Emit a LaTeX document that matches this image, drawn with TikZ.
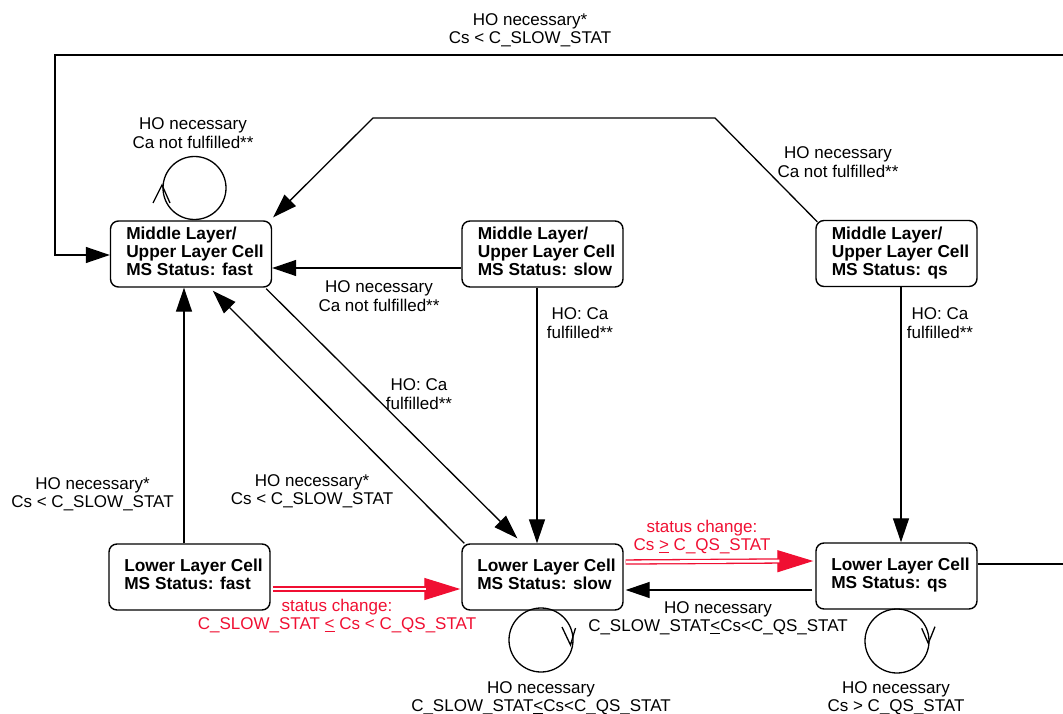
\documentclass[tikz,border=0pt]{standalone}
\usepackage{fontspec}
\setmainfont{Liberation Sans}
\usetikzlibrary{arrows.meta,calc}
\definecolor{sred}{RGB}{240,15,50}
\newcommand\boxtxt[1]{\begin{tabular}{@{\hspace{8pt}}l@{}}#1\end{tabular}}
\begin{document}
\begin{tikzpicture}[x=1pt,y=-1pt,
  box/.style={draw, line width=1.4pt, rounded corners=8pt, minimum width=161pt, minimum height=66pt, inner xsep=0pt, inner ysep=0pt, font=\bfseries\fontsize{17.3}{18}\selectfont},
  lbl/.style={align=center, font=\fontsize{17}{18.3}\selectfont, inner sep=0pt},
  conn/.style={line width=1.3pt, -{Triangle[length=24pt,width=16pt]}},
  plain/.style={line width=1.3pt},
  redtip/.style={draw=sred, line width=1.2pt, -{Triangle[length=36pt,width=22pt]}},
  redline/.style={draw=sred, line width=1.3pt, double=white, double distance=2.8pt}
]
\useasboundingbox (0,0) rectangle (1063,714);
\clip (0,0) rectangle (1063,714);

% states
\node[box] (MF) at (191,254) {\boxtxt{Middle Layer/\\Upper Layer Cell\\MS Status: fast}};
\node[box] (MS) at (542.5,254) {\boxtxt{Middle Layer/\\Upper Layer Cell\\MS Status: slow}};
\node[box] (MQ) at (896.5,253.5) {\boxtxt{Middle Layer/\\Upper Layer Cell\\MS Status: qs}};
\node[box] (LF) at (189.5,577) {\boxtxt{Lower Layer Cell\\MS Status: fast}};
\node[box] (LS) at (542.5,577) {\boxtxt{Lower Layer Cell\\MS Status: slow}};
\node[box] (LQ) at (896.5,576) {\boxtxt{Lower Layer Cell\\MS Status: qs}};

% waypoints
\coordinate (w1) at (1085,564);
\coordinate (w2) at (1085,55);
\coordinate (w3) at (55,55);
\coordinate (w4) at (55,255);
\coordinate (w5) at (715,118);
\coordinate (w6) at (373,118);

% connectors
\draw[conn] ($(LQ.east)+(0,-12)$) -- (w1) -- (w2) -- (w3) -- (w4) -- ($(MF.west)+(0,1)$);
\draw[conn] ($(MQ.north west)+(2,2)$) -- (w5) -- (w6) -- ($(MF.north east)+(1,-3)$);
\draw[conn] ($(MS.west)+(0,14)$) -- ($(MF.east)+(0,14)$);
\draw[conn] ($(MS.south)+(-5.5,0)$) -- ($(LS.north)+(-5.5,0)$);
\draw[conn] ($(MQ.south)+(4.5,0)$) -- ($(LQ.north)+(4.5,0)$);
\draw[conn] ($(LF.north)+(-5.5,0)$) -- ($(MF.south)+(-7,0)$);
\draw[conn] ($(MF.south east)+(-6,1)$) -- ($(LS.north west)+(56,-5)$);
\draw[conn] ($(LS.north west)+(3,0)$) -- ($(MF.south west)+(103,3)$);
\draw[conn] ($(LQ.west)+(-3,14)$) -- ($(LS.east)+(2,13)$);

% red status changes
\draw[redtip] ($(LF.east)+(2,12)$) -- ($(LS.west)+(-1,12)$);
\draw[redline] ($(LF.east)+(2,12)$) -- ($(LS.west)+(-35,12)$);
\draw[redtip] ($(LS.east)+(2,-15)$) -- ($(LQ.west)+(-2,-15)$);
\draw[redline] ($(LS.east)+(2,-15)$) -- ($(LQ.west)+(-36,-15)$);

% self loops
\coordinate (cMF) at (194.5,188);
\draw[plain] (cMF) circle[radius=31.5];
\draw[plain] ($(cMF)+(-41.5,15)$) -- ($(cMF)+(-32.5,-3)$) -- ($(cMF)+(-24.5,15)$);
\coordinate (cLS) at (541,640);
\draw[plain] (cLS) circle[radius=32];
\draw[plain] ($(cLS)+(21,-13)$) -- ($(cLS)+(29.5,5)$) -- ($(cLS)+(34.5,-12)$);
\coordinate (cLQ) at (897,641);
\draw[plain] (cLQ) circle[radius=32];
\draw[plain] ($(cLQ)+(24.7,-12.7)$) -- ($(cLQ)+(31.3,2.3)$) -- ($(cLQ)+(38,-14.3)$);

% labels
\node[lbl] (l1) at (530,30) {HO necessary*\\Cs < C\_SLOW\_STAT};
\node[lbl] (l2) at (193,133) {HO necessary\\Ca not fulfilled**};
\node[lbl] (l3) at (838,162) {HO necessary\\Ca not fulfilled**};
\node[lbl] (l4) at (379,296) {HO necessary\\Ca not fulfilled**};
\node[lbl] (l5) at (580,323) {HO: Ca\\fulfilled**};
\node[lbl] (l6) at (940,323) {HO: Ca\\fulfilled**};
\node[lbl] (l7) at (419,394) {HO: Ca\\fulfilled**};
\node[lbl] (l8) at (312,491) {HO necessary*\\Cs < C\_SLOW\_STAT};
\node[lbl] (l9) at (92.5,494) {HO necessary*\\Cs < C\_SLOW\_STAT};
\node[lbl,text=sred] (l10) at (337,616) {status change:\\C\_SLOW\_STAT \underline{<} Cs < C\_QS\_STAT};
\node[lbl,text=sred] (l11) at (702,537) {status change:\\Cs \underline{>} C\_QS\_STAT};
\node[lbl] (l12) at (718,618) {HO necessary\\C\_SLOW\_STAT\underline{<}Cs<C\_QS\_STAT};
\node[lbl] (l13) at (541,698) {HO necessary\\C\_SLOW\_STAT\underline{<}Cs<C\_QS\_STAT};
\node[lbl] (l14) at (896,698) {HO necessary\\Cs > C\_QS\_STAT};
\end{tikzpicture}
\end{document}
